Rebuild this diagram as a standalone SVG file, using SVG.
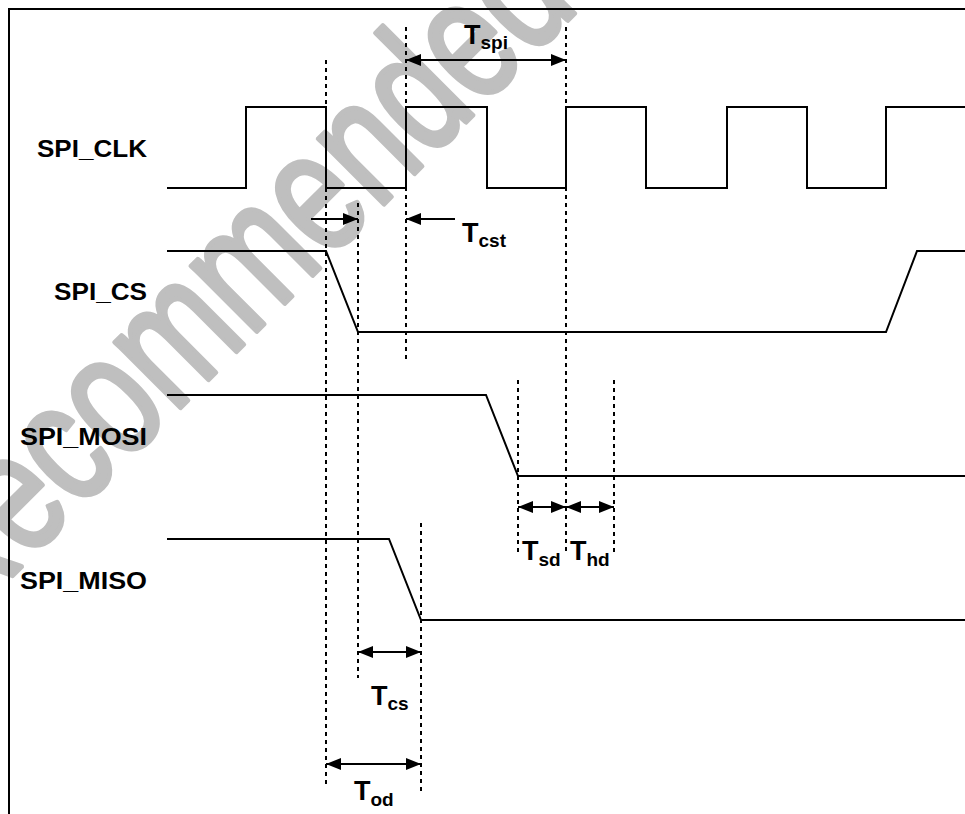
<svg xmlns="http://www.w3.org/2000/svg" width="965" height="814" viewBox="0 0 965 814">
<defs>
<style>
.frame{stroke:#000;stroke-width:2;fill:none}
.sig{stroke:#000;stroke-width:2;fill:none;stroke-linejoin:miter}
.dot{stroke:#000;stroke-width:2;stroke-dasharray:4 4;fill:none}
.arr{stroke:#000;stroke-width:2;fill:none}
.lbl{font-family:"Liberation Sans",Arial,sans-serif;font-weight:bold;font-size:24px;fill:#000}
.t{font-family:"Liberation Sans",Arial,sans-serif;font-weight:bold;font-size:27px;fill:#000}
.sub{font-size:19px}
.wm{font-family:"Liberation Sans",Arial,sans-serif;font-weight:normal;font-size:175px;fill:#bfbfbf;stroke:#bfbfbf;stroke-width:5;stroke-linejoin:round}
</style>
<marker id="ah" markerUnits="userSpaceOnUse" markerWidth="15" markerHeight="12" refX="15" refY="6" orient="auto-start-reverse">
<path d="M0,0 L15,6 L0,12 z" fill="#000"/>
</marker>
</defs>
<rect width="965" height="814" fill="#fff"/>
<text class="wm" transform="translate(-40,628) rotate(-45) scale(0.74,1)">Recommended</text>
<g id="frame">
<path class="frame" d="M9,814 V9 H965"/>
</g>
<g id="spi_clk">
<text class="lbl" x="37" y="157" textLength="110" lengthAdjust="spacingAndGlyphs">SPI_CLK</text>
<path class="sig" d="M167,188 H246 V107 H326 V188 H406 V107 H487 V188 H566 V107 H646 V188 H727 V107 H807 V188 H886 V107 H965"/>
</g>
<g id="spi_cs">
<text class="lbl" x="54" y="300" textLength="93" lengthAdjust="spacingAndGlyphs">SPI_CS</text>
<path class="sig" d="M167,251 H326 L358,332 H886 L917,251 H965"/>
</g>
<g id="spi_mosi">
<text class="lbl" x="20" y="445" textLength="127" lengthAdjust="spacingAndGlyphs">SPI_MOSI</text>
<path class="sig" d="M167,395 H486 L518,476 H965"/>
</g>
<g id="spi_miso">
<text class="lbl" x="20" y="589" textLength="127" lengthAdjust="spacingAndGlyphs">SPI_MISO</text>
<path class="sig" d="M167,539 H389 L421,620 H965"/>
</g>
<g id="connectors">
<line class="dot" x1="326" y1="60" x2="326" y2="788"/>
<line class="dot" x1="358" y1="203" x2="358" y2="678"/>
<line class="dot" x1="406" y1="27" x2="406" y2="362"/>
<line class="dot" x1="566" y1="27" x2="566" y2="555"/>
<line class="dot" x1="518" y1="380" x2="518" y2="555"/>
<line class="dot" x1="614" y1="380" x2="614" y2="555"/>
<line class="dot" x1="421" y1="523" x2="421" y2="792"/>
<line class="arr" x1="406" y1="60" x2="566" y2="60" marker-start="url(#ah)" marker-end="url(#ah)"/>
<line class="arr" x1="311" y1="219" x2="358" y2="219" marker-end="url(#ah)"/>
<line class="arr" x1="455" y1="219" x2="406" y2="219" marker-end="url(#ah)"/>
<line class="arr" x1="358" y1="652" x2="421" y2="652" marker-start="url(#ah)" marker-end="url(#ah)"/>
<line class="arr" x1="326" y1="764" x2="421" y2="764" marker-start="url(#ah)" marker-end="url(#ah)"/>
<line class="arr" x1="518" y1="507" x2="566" y2="507" marker-start="url(#ah)" marker-end="url(#ah)"/>
<line class="arr" x1="566" y1="507" x2="614" y2="507" marker-start="url(#ah)" marker-end="url(#ah)"/>
</g>
<g id="labels">
<text class="t" x="464" y="44">T<tspan class="sub" dy="5">spi</tspan></text>
<text class="t" x="462" y="242">T<tspan class="sub" dy="5">cst</tspan></text>
<text class="t" x="371" y="705">T<tspan class="sub" dy="5">cs</tspan></text>
<text class="t" x="354" y="800">T<tspan class="sub" dy="6">od</tspan></text>
<text class="t" x="522" y="560">T<tspan class="sub" dy="6">sd</tspan></text>
<text class="t" x="570" y="560">T<tspan class="sub" dy="6">hd</tspan></text>
</g>
</svg>
